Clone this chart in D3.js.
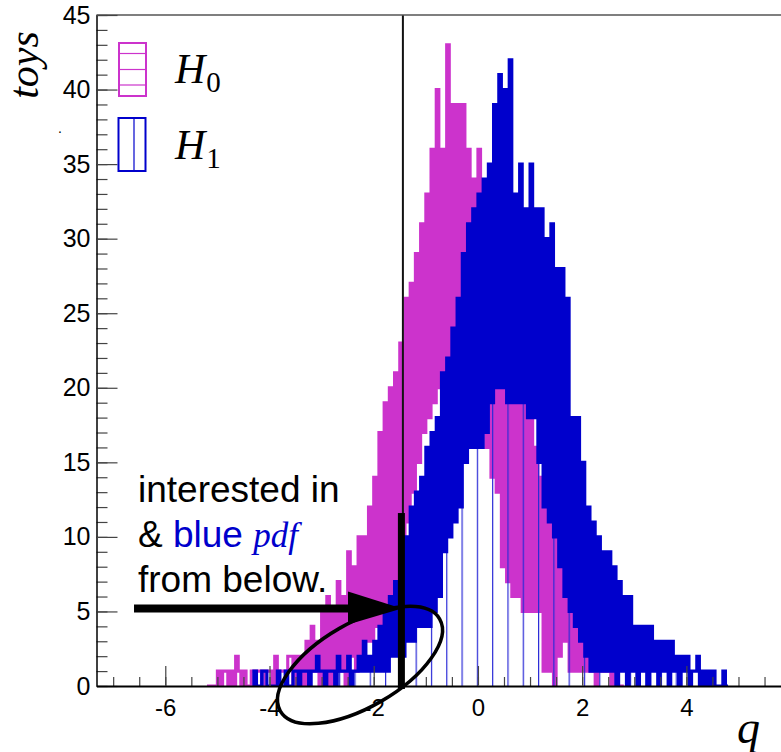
<!DOCTYPE html>
<html>
<head>
<meta charset="utf-8">
<script src="https://cdn.jsdelivr.net/npm/d3@7"></script>
<style>
body { margin: 0; background: #fff; }
svg { display: block; }
</style>
</head>
<body>
<script>
// fine binned toy distributions, bins of 0.05 in q
let binWidth = 0.05
let h0Start = -5.2
let h1Start = -4.3

let h0Counts = [
  0,0,0,0,1,0,1,1,0,1,0,2,1,0,1,0,0,1,1,1,
  1,0,1,1,1,0,2,1,1,1,1,2,2,0,2,1,2,0,3,1,
  4,1,3,0,5,1,6,0,5,1,7,1,6,0,9,2,8,1,10,2,
  10,3,12,3,14,4,17,4,19,5,20,6,21,7,23,9,26,11,27,13,
  29,15,31,17,33,18,36,19,40,20,36,20,43,21,39,21,39,20,39,18,
  36,17,34,17,36,17,33,16,32,14,30,13,28,8,26,7,24,6,22,6,
  21,5,19,5,18,5,16,5,14,1,13,1,12,0,10,2,9,3,8,1,
  7,1,6,1,5,1,4,1,4,0,2,1,2,1,1,0,1,0,0,0
]

let h1Counts = [
  1,0,0,1,1,0,0,0,0,1,0,0,1,0,0,1,1,0,1,1,
  1,0,1,1,2,1,1,0,1,1,1,0,2,1,1,1,2,0,1,1,
  2,1,3,1,2,1,3,1,4,1,5,1,6,2,7,2,9,2,10,3,
  12,3,13,4,14,4,16,4,17,5,18,6,21,9,22,10,24,11,26,12,
  29,15,31,16,32,16,33,16,34,17,35,19,39,20,41,20,40,19,42,19,
  33,19,35,19,32,18,35,18,32,15,32,12,30,11,31,10,28,8,28,6,
  26,5,18,4,18,3,15,2,12,1,11,1,10,1,9,1,9,1,8,0,
  7,1,6,0,6,1,4,0,4,1,4,0,4,1,3,0,3,1,3,0,
  3,1,2,0,2,1,2,0,1,1,2,0,1,0,1,0,1,0,0,0,1,0
]

let yMajorTicks = [0, 5, 10, 15, 20, 25, 30, 35, 40, 45]
let xMajorTicks = [-6, -4, -2, 0, 2, 4]
let legendNames = ["H", "H"]
let legendSubs = ["0", "1"]
let cutValue = -1.44

let colH0 = "#cc33cc"
let colH1 = "#0000cc"
let sans = "'Liberation Sans', Arial, Helvetica, sans-serif"
let serif = "'Liberation Serif', 'Times New Roman', serif"

let width = 781, height = 752

let svg = d3.select("body")
    .append("svg")
    .attr("width", width)
    .attr("height", height)

svg.append("rect").attr("width", width).attr("height", height).attr("fill", "#fff")

let x = d3.scaleLinear().domain([-7.32, 5.816]).range([96.5, 781])
let y = d3.scaleLinear().domain([0, 45]).range([686, 15])

let defs = svg.append("defs")
defs.append("clipPath").attr("id", "plotClip")
    .append("rect")
    .attr("x", x.range()[0]).attr("y", y.range()[1])
    .attr("width", x.range()[1] - x.range()[0])
    .attr("height", y.range()[0] - y.range()[1])

// vertical hatch of H1
let hatch = defs.append("pattern")
    .attr("id", "vhatch")
    .attr("patternUnits", "userSpaceOnUse")
    .attr("x", 430.9).attr("y", 0)
    .attr("width", 15.3).attr("height", 10)
hatch.append("line")
    .attr("x1", 0.6).attr("x2", 0.6).attr("y1", 0).attr("y2", 10)
    .attr("stroke", "#2a2ad6").attr("stroke-width", 1.2)

function histPoints(counts, start){
    let pts = [[start, 0]]
    counts.forEach((c, i) => pts.push([start + i * binWidth, c]))
    let end = start + counts.length * binWidth
    pts.push([end, counts[counts.length - 1]])
    pts.push([end, 0])
    return pts
}

let step = d3.line()
    .x(d => x(d[0]))
    .y(d => y(d[1]))
    .curve(d3.curveStepAfter)

let plot = svg.append("g").attr("clip-path", "url(#plotClip)")

plot.append("path")
    .attr("d", step(histPoints(h0Counts, h0Start)))
    .attr("fill", "none")
    .attr("stroke", colH0)
    .attr("stroke-width", 3.1)

plot.append("path")
    .attr("d", step(histPoints(h1Counts, h1Start)) + "Z")
    .attr("fill", "url(#vhatch)")
    .attr("stroke", "none")

plot.append("path")
    .attr("d", step(histPoints(h1Counts, h1Start)))
    .attr("fill", "none")
    .attr("stroke", colH1)
    .attr("stroke-width", 3.1)

// cut line
svg.append("line")
    .attr("x1", x(cutValue)).attr("x2", x(cutValue))
    .attr("y1", y(45)).attr("y2", y(0))
    .attr("stroke", "#111").attr("stroke-width", 2)

// top frame
svg.append("line")
    .attr("x1", x.range()[0]).attr("x2", x.range()[1])
    .attr("y1", y(45)).attr("y2", y(45))
    .attr("stroke", "#555").attr("stroke-width", 1.5)

// y axis
let yMinor = svg.append("g")
    .attr("transform", `translate(${x.range()[0]},0)`)
    .call(d3.axisLeft(y).tickValues(d3.range(0, 46, 1)).tickSize(-11).tickFormat(""))
yMinor.select(".domain").remove()

let yAxis = svg.append("g")
    .attr("transform", `translate(${x.range()[0]},0)`)
    .call(d3.axisLeft(y).tickValues(yMajorTicks).tickSize(-21).tickSizeOuter(0).tickPadding(6))
yAxis.select(".domain").attr("stroke", "#000").attr("stroke-width", 1.5)
yAxis.selectAll("text").attr("font-size", 25).attr("font-family", sans).attr("fill", "#000")

// x axis
let xMinor = svg.append("g")
    .attr("transform", `translate(0,${y(0)})`)
    .call(d3.axisBottom(x).tickValues(d3.range(-7, 5.6, 0.5)).tickSize(-9).tickFormat(""))
xMinor.select(".domain").remove()

let xAxis = svg.append("g")
    .attr("transform", `translate(0,${y(0)})`)
    .call(d3.axisBottom(x).tickValues(xMajorTicks).tickSize(-20).tickSizeOuter(0).tickPadding(13)
        .tickFormat(d => String(d)))
xAxis.select(".domain").attr("stroke", "#000").attr("stroke-width", 2.2)
xAxis.selectAll("text").attr("font-size", 24).attr("font-family", sans).attr("fill", "#000")

svg.selectAll(".tick line").attr("stroke", "#444").attr("stroke-width", 1.2)

// axis titles
svg.append("text")
    .attr("transform", "translate(38,65) rotate(-90)")
    .attr("text-anchor", "middle")
    .attr("font-family", serif).attr("font-style", "italic")
    .attr("font-size", 42)
    .text("toys")

svg.append("text")
    .attr("x", 60).attr("y", 133)
    .attr("font-family", sans).attr("font-size", 14)
    .attr("text-anchor", "middle")
    .text(".")

svg.append("text")
    .attr("x", 737).attr("y", 743)
    .attr("font-family", serif).attr("font-style", "italic")
    .attr("font-size", 46)
    .text("q")

// legend
let legendBoxes = [
    {x: 119, y: 43, col: colH0},
    {x: 118.5, y: 118, col: colH1}
]
legendBoxes.forEach((b, i) => {
    svg.append("rect")
        .attr("x", b.x).attr("y", b.y).attr("width", 27).attr("height", 53)
        .attr("fill", "none").attr("stroke", b.col).attr("stroke-width", 2)
    let g = svg.append("text")
        .attr("x", 175).attr("y", b.y + 40 + i * 1)
        .attr("font-family", serif).attr("font-size", 42)
    g.append("tspan").attr("font-style", "italic").text(legendNames[i])
    g.append("tspan").attr("font-size", 29).attr("dy", 9).attr("dx", 1).text(legendSubs[i])
})
;[53.5, 69.5, 85].forEach(yy => {
    svg.append("line").attr("x1", 119).attr("x2", 146).attr("y1", yy).attr("y2", yy)
        .attr("stroke", colH0).attr("stroke-width", 1.2)
})
svg.append("line").attr("x1", 134).attr("x2", 134).attr("y1", 118).attr("y2", 171)
    .attr("stroke", colH1).attr("stroke-width", 1.2)

// annotation
let note = svg.append("g").attr("font-family", sans).attr("font-size", 37)
note.append("text").attr("x", 138).attr("y", 502).text("interested in")
let line2 = note.append("text").attr("x", 138).attr("y", 547)
line2.append("tspan").text("& ")
line2.append("tspan").attr("fill", colH1).text("blue ")
line2.append("tspan").attr("fill", colH1).attr("font-family", serif)
    .attr("font-style", "italic").attr("font-size", 35).text("pdf")
note.append("text").attr("x", 138).attr("y", 592).text("from below.")

// arrow
let arrowY = y(5.2)
svg.append("line")
    .attr("x1", x(-6.6)).attr("x2", 352)
    .attr("y1", arrowY).attr("y2", arrowY)
    .attr("stroke", "#000").attr("stroke-width", 8)
svg.append("path")
    .attr("d", `M348,${arrowY - 17} L${x(cutValue) - 1},${arrowY} L348,${arrowY + 16} Z`)
    .attr("fill", "#000")

// thick bar at the cut
svg.append("rect")
    .attr("x", x(cutValue) - 5).attr("y", y(11.6))
    .attr("width", 7).attr("height", y(0) - y(11.6) + 3)
    .attr("fill", "#000")

// ellipse
svg.append("ellipse")
    .attr("cx", 0).attr("cy", 0).attr("rx", 92).attr("ry", 42)
    .attr("transform", "translate(360,665) rotate(-30)")
    .attr("fill", "none").attr("stroke", "#000").attr("stroke-width", 3.5)
</script>
</body>
</html>
